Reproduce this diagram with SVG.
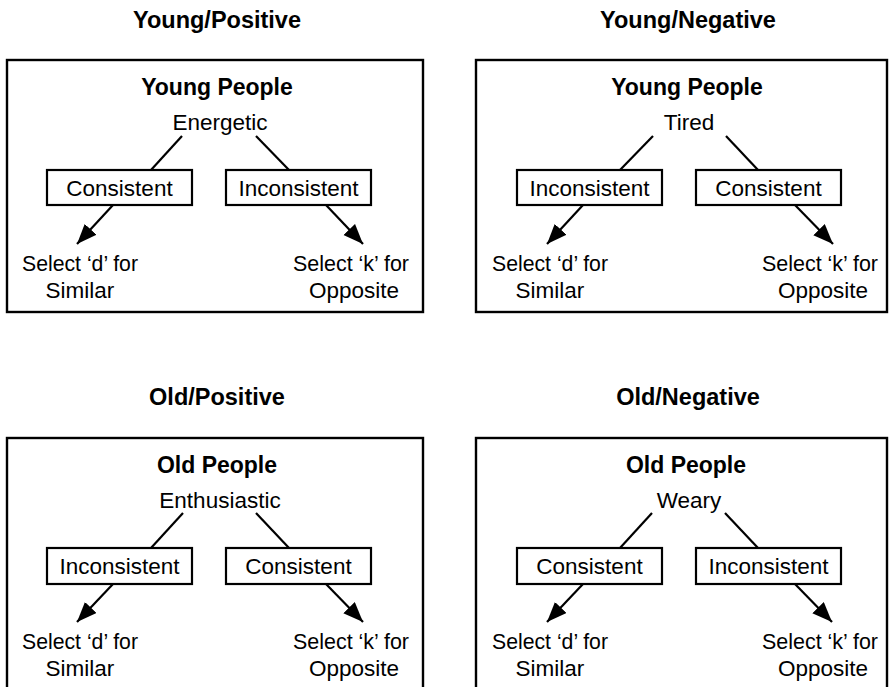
<svg xmlns="http://www.w3.org/2000/svg" width="889" height="687" viewBox="0 0 889 687">
<style>
text{font-family:"Liberation Sans",Arial,sans-serif;fill:#000;text-anchor:middle}
.t{font-size:23.5px;font-weight:bold}
.h{font-size:23px;font-weight:bold}
.n{font-size:22.5px}
.frame{fill:#fff;stroke:#000;stroke-width:2.4}
.box{fill:#fff;stroke:#000;stroke-width:2.2}
.ln{stroke:#000;stroke-width:2.2;fill:none}
.ar{stroke:#000;stroke-width:2.2;fill:none;marker-end:url(#ah)}
</style>
<defs>
<marker id="ah" markerUnits="userSpaceOnUse" markerWidth="22" markerHeight="18" refX="20" refY="8" orient="auto">
<path d="M0,0 L20,8 L0,16 z" fill="#000"/>
</marker>
</defs>
<rect width="889" height="687" fill="#fff"/>

<!-- Panel 1: Young/Positive -->
<g id="panel-young-positive">
<text class="t" x="217" y="28">Young/Positive</text>
<rect class="frame" x="7" y="60" width="416" height="252"/>
</g>
<g id="yp-root"><text class="h" x="217" y="95">Young People</text><text class="n" x="220" y="130">Energetic</text></g>
<g id="yp-left"><rect class="box" x="47" y="170" width="145" height="35"/><text class="n" x="119.5" y="196">Consistent</text></g>
<g id="yp-right"><rect class="box" x="226" y="170" width="145" height="35"/><text class="n" x="298.5" y="196">Inconsistent</text></g>
<g id="yp-d"><text class="n" x="80" y="271"><tspan x="80" textLength="116" lengthAdjust="spacingAndGlyphs">Select ‘d’ for</tspan><tspan x="80" dy="27">Similar</tspan></text></g>
<g id="yp-k"><text class="n" x="351" y="271"><tspan x="351" textLength="116" lengthAdjust="spacingAndGlyphs">Select ‘k’ for</tspan><tspan x="354" dy="27">Opposite</tspan></text></g>

<!-- Panel 2: Young/Negative -->
<g id="panel-young-negative">
<text class="t" x="688" y="28">Young/Negative</text>
<rect class="frame" x="476" y="60" width="411" height="252"/>
</g>
<g id="yn-root"><text class="h" x="687" y="95">Young People</text><text class="n" x="689" y="130">Tired</text></g>
<g id="yn-left"><rect class="box" x="517" y="170" width="145" height="35"/><text class="n" x="589.5" y="196">Inconsistent</text></g>
<g id="yn-right"><rect class="box" x="696" y="170" width="145" height="35"/><text class="n" x="768.5" y="196">Consistent</text></g>
<g id="yn-d"><text class="n" x="550" y="271"><tspan x="550" textLength="116" lengthAdjust="spacingAndGlyphs">Select ‘d’ for</tspan><tspan x="550" dy="27">Similar</tspan></text></g>
<g id="yn-k"><text class="n" x="820" y="271"><tspan x="820" textLength="116" lengthAdjust="spacingAndGlyphs">Select ‘k’ for</tspan><tspan x="823" dy="27">Opposite</tspan></text></g>

<!-- Panel 3: Old/Positive -->
<g id="panel-old-positive">
<text class="t" x="217" y="405">Old/Positive</text>
<rect class="frame" x="7" y="438" width="416" height="256"/>
</g>
<g id="op-root"><text class="h" x="217" y="473">Old People</text><text class="n" x="220" y="508">Enthusiastic</text></g>
<g id="op-left"><rect class="box" x="47" y="548" width="145" height="36"/><text class="n" x="119.5" y="574">Inconsistent</text></g>
<g id="op-right"><rect class="box" x="226" y="548" width="145" height="36"/><text class="n" x="298.5" y="574">Consistent</text></g>
<g id="op-d"><text class="n" x="80" y="649"><tspan x="80" textLength="116" lengthAdjust="spacingAndGlyphs">Select ‘d’ for</tspan><tspan x="80" dy="27">Similar</tspan></text></g>
<g id="op-k"><text class="n" x="351" y="649"><tspan x="351" textLength="116" lengthAdjust="spacingAndGlyphs">Select ‘k’ for</tspan><tspan x="354" dy="27">Opposite</tspan></text></g>

<!-- Panel 4: Old/Negative -->
<g id="panel-old-negative">
<text class="t" x="688" y="405">Old/Negative</text>
<rect class="frame" x="476" y="438" width="411" height="256"/>
</g>
<g id="on-root"><text class="h" x="686" y="473">Old People</text><text class="n" x="689" y="508">Weary</text></g>
<g id="on-left"><rect class="box" x="517" y="548" width="145" height="36"/><text class="n" x="589.5" y="574">Consistent</text></g>
<g id="on-right"><rect class="box" x="696" y="548" width="145" height="36"/><text class="n" x="768.5" y="574">Inconsistent</text></g>
<g id="on-d"><text class="n" x="550" y="649"><tspan x="550" textLength="116" lengthAdjust="spacingAndGlyphs">Select ‘d’ for</tspan><tspan x="550" dy="27">Similar</tspan></text></g>
<g id="on-k"><text class="n" x="820" y="649"><tspan x="820" textLength="116" lengthAdjust="spacingAndGlyphs">Select ‘k’ for</tspan><tspan x="823" dy="27">Opposite</tspan></text></g>

<g id="connectors">
<line class="ln" x1="182" y1="136" x2="151" y2="170"/>
<line class="ln" x1="256" y1="136" x2="289" y2="170"/>
<line class="ar" x1="113" y1="205" x2="77" y2="244"/>
<line class="ar" x1="326" y1="205" x2="363" y2="244"/>

<line class="ln" x1="653" y1="136" x2="620" y2="170"/>
<line class="ln" x1="726" y1="136" x2="758" y2="170"/>
<line class="ar" x1="583" y1="205" x2="547" y2="244"/>
<line class="ar" x1="795" y1="205" x2="833" y2="244"/>

<line class="ln" x1="183" y1="513" x2="151" y2="548"/>
<line class="ln" x1="256" y1="513" x2="289" y2="548"/>
<line class="ar" x1="113" y1="584" x2="77" y2="622"/>
<line class="ar" x1="326" y1="584" x2="363" y2="622"/>

<line class="ln" x1="652" y1="513" x2="620" y2="548"/>
<line class="ln" x1="725" y1="513" x2="758" y2="548"/>
<line class="ar" x1="583" y1="584" x2="547" y2="622"/>
<line class="ar" x1="795" y1="584" x2="832" y2="622"/>
</g>
</svg>
